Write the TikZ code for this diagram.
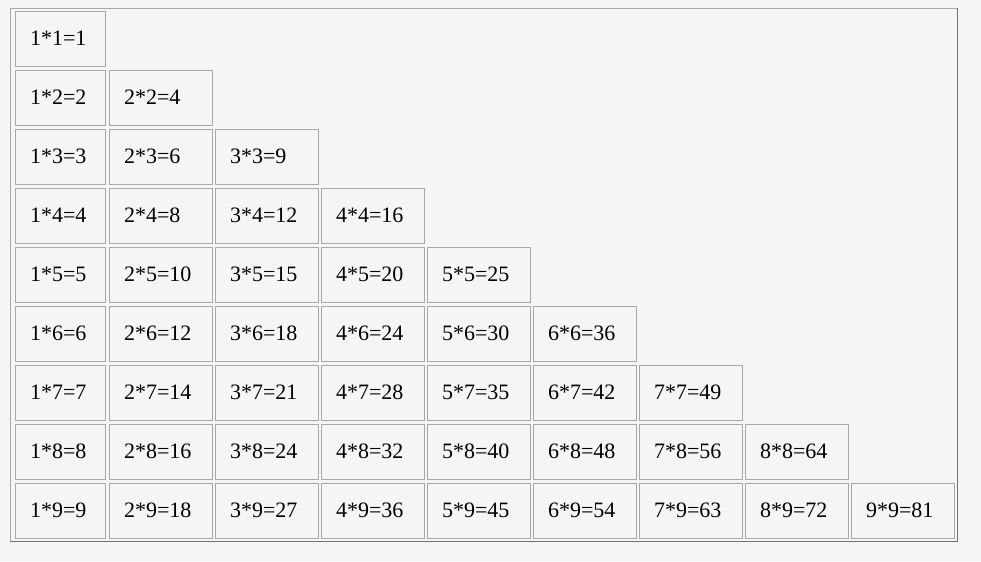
\documentclass[tikz,border=0pt]{standalone}
\usepackage{fontspec}
\setmainfont{Liberation Serif}
\definecolor{fundo}{HTML}{F5F5F5}
\definecolor{bordaescura}{HTML}{707070}
\definecolor{bordaclara}{HTML}{A8A8A8}
\tikzset{
  celula/.style={draw=bordaclara, line width=0.75pt, anchor=north west, outer sep=0pt,
    minimum height=41.25pt, inner xsep=11.25pt, text width=54.75pt, align=left,
    font=\fontsize{16.5pt}{18pt}\selectfont,
    append after command={\pgfextra{\draw[bordaescura, line width=0.75pt]
      (\tikzlastnode.south west) -- (\tikzlastnode.north west) -- (\tikzlastnode.north east);}}},
  primeira/.style={celula, text width=45pt}
}
\begin{document}
\begin{tikzpicture}[x=0.75pt, y=-0.75pt]
        % Fundo e moldura da tabela
        \fill[fundo] (0,0) rectangle (981,561);
        \useasboundingbox (0,0) rectangle (981,561);
        \draw[bordaclara, line width=0.75pt] (10,541) -- (10,8) -- (957,8);
        \draw[bordaescura, line width=0.75pt] (957,8) -- (957,541) -- (10,541);

        % Linha 1
        \node[primeira] (c1-1) at (15,11) {1*1=1};
        % Linha 2
        \node[primeira] (c1-2) at (15,70) {1*2=2};
        \node[celula] (c2-2) at (109,70) {2*2=4};
        % Linha 3
        \node[primeira] (c1-3) at (15,129) {1*3=3};
        \node[celula] (c2-3) at (109,129) {2*3=6};
        \node[celula] (c3-3) at (215,129) {3*3=9};
        % Linha 4
        \node[primeira] (c1-4) at (15,188) {1*4=4};
        \node[celula] (c2-4) at (109,188) {2*4=8};
        \node[celula] (c3-4) at (215,188) {3*4=12};
        \node[celula] (c4-4) at (321,188) {4*4=16};
        % Linha 5
        \node[primeira] (c1-5) at (15,247) {1*5=5};
        \node[celula] (c2-5) at (109,247) {2*5=10};
        \node[celula] (c3-5) at (215,247) {3*5=15};
        \node[celula] (c4-5) at (321,247) {4*5=20};
        \node[celula] (c5-5) at (427,247) {5*5=25};
        % Linha 6
        \node[primeira] (c1-6) at (15,306) {1*6=6};
        \node[celula] (c2-6) at (109,306) {2*6=12};
        \node[celula] (c3-6) at (215,306) {3*6=18};
        \node[celula] (c4-6) at (321,306) {4*6=24};
        \node[celula] (c5-6) at (427,306) {5*6=30};
        \node[celula] (c6-6) at (533,306) {6*6=36};
        % Linha 7
        \node[primeira] (c1-7) at (15,365) {1*7=7};
        \node[celula] (c2-7) at (109,365) {2*7=14};
        \node[celula] (c3-7) at (215,365) {3*7=21};
        \node[celula] (c4-7) at (321,365) {4*7=28};
        \node[celula] (c5-7) at (427,365) {5*7=35};
        \node[celula] (c6-7) at (533,365) {6*7=42};
        \node[celula] (c7-7) at (639,365) {7*7=49};
        % Linha 8
        \node[primeira] (c1-8) at (15,424) {1*8=8};
        \node[celula] (c2-8) at (109,424) {2*8=16};
        \node[celula] (c3-8) at (215,424) {3*8=24};
        \node[celula] (c4-8) at (321,424) {4*8=32};
        \node[celula] (c5-8) at (427,424) {5*8=40};
        \node[celula] (c6-8) at (533,424) {6*8=48};
        \node[celula] (c7-8) at (639,424) {7*8=56};
        \node[celula] (c8-8) at (745,424) {8*8=64};
        % Linha 9
        \node[primeira] (c1-9) at (15,483) {1*9=9};
        \node[celula] (c2-9) at (109,483) {2*9=18};
        \node[celula] (c3-9) at (215,483) {3*9=27};
        \node[celula] (c4-9) at (321,483) {4*9=36};
        \node[celula] (c5-9) at (427,483) {5*9=45};
        \node[celula] (c6-9) at (533,483) {6*9=54};
        \node[celula] (c7-9) at (639,483) {7*9=63};
        \node[celula] (c8-9) at (745,483) {8*9=72};
        \node[celula] (c9-9) at (851,483) {9*9=81};
    \end{tikzpicture}
\end{document}
